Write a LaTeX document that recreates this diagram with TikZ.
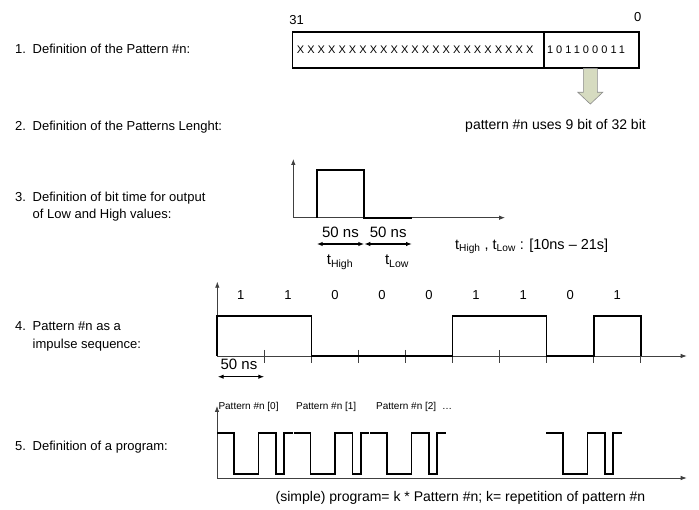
\documentclass[tikz,border=0pt]{standalone}
\usepackage{fontspec}
\setmainfont{Liberation Sans}
\usetikzlibrary{arrows.meta}

\definecolor{arrowfill}{RGB}{214,219,192}
\newcommand{\pxfont}[1]{\fontsize{#1}{#1}\selectfont}

\tikzset{
	lbl/.style={anchor=base west, inner sep=0pt, font=\pxfont{13}},
	txt/.style={anchor=base, inner sep=0pt},
	sigaxis/.style={draw=black!75, line width=0.8pt, -{Latex[length=6pt,width=4.5pt]}},
	sigwave/.style={line width=1.7pt, line join=miter},
	spanarrow/.style={line width=1.2pt, {Latex[length=6pt,width=4.5pt]}-{Latex[length=6pt,width=4.5pt]}},
	bitmark/.style={draw=black!75, line width=0.8pt},
	regbox/.style={draw, line width=1.1pt, minimum height=36pt, inner ysep=0pt, align=left, font=\pxfont{11}\addfontfeature{LetterSpace=28}},
	blockarrow/.style={fill=arrowfill, draw=black!45, line width=0.6pt},
}

\begin{document}
\begin{tikzpicture}[x=1pt, y=-1pt]
	\useasboundingbox[fill=white] (0,0) rectangle (699,510);
	\node[lbl] (def1) at (15,54) {\makebox[17.5pt][l]{1.}Definition of the Pattern \#n:};
	\node[lbl] (def2) at (15,130.5) {\makebox[17.5pt][l]{2.}Definition of the Patterns Lenght:};
	\node[lbl] (def3) at (15,201.5) {\makebox[17.5pt][l]{3.}Definition of bit time for output};
	\node[lbl] (def3b) at (32.5,219) {of Low and High values:};
	\node[lbl] (def4) at (15,331) {\makebox[17.5pt][l]{4.}Pattern \#n as a};
	\node[lbl] (def4b) at (32.5,349) {impulse sequence:};
	\node[lbl] (def5) at (15,451) {\makebox[17.5pt][l]{5.}Definition of a program:};

	\node[txt, font=\pxfont{13}] (msb) at (296.7,24.5) {31};
	\node[txt, font=\pxfont{13}] (lsb) at (637.7,21.5) {0};
	\node[regbox, text width=243pt, inner xsep=4pt] (unused) at (418.35,50) {XXXXXXXXXXXXXXXXXXXXXXX};
	\node[regbox, text width=89pt, inner xsep=3pt] (used) at (591.5,50) {101100011};
	\node[txt, font=\pxfont{14}] (uses) at (555.5,129.5) {pattern \#n uses 9 bit of 32 bit};
	\filldraw[blockarrow] ([xshift=-8.2pt]used.south) -- ++(0,23.7) -- ++(-5.5,0) -- ++(12.5,11.8)
		-- ++(12.5,-11.8) -- ++(-5.5,0) -- ++(0,-23.7) -- cycle;

	\coordinate (o3) at (293.3,217.7);
	\draw[sigaxis] (o3) -- (293.3,159);
	\draw[sigaxis] (o3) -- (505,217.7);
	\draw[sigwave] (316.7,217.7) -- (316.7,170) -- (364.3,170) -- (364.3,217.7) -- (412,217.7);
	\coordinate (h0) at (316.7,244);
	\coordinate (h1) at (364.3,244);
	\coordinate (h2) at (412,244);
	\draw[spanarrow] (h0) -- (h1);
	\draw[spanarrow] (h1) -- (h2);
	\node[txt, font=\pxfont{15}] (thigh) at (340.5,237.3) {50 ns};
	\node[txt, font=\pxfont{15}] (tlow) at (388.2,237.3) {50 ns};
	\node[txt, font=\pxfont{15}] (thighlbl) at (340,265) {t\textsubscript{High}};
	\node[txt, font=\pxfont{15}] (tlowlbl) at (397,265) {t\textsubscript{Low}};
	\node[txt, anchor=base west, font=\pxfont{14.5}] (trange) at (455,249.3) {t\textsubscript{High} , t\textsubscript{Low} : [10ns – 21s]};

	\coordinate (o4) at (217.3,356);
	\draw[sigaxis] (o4) -- (217.3,281.7);
	\draw[sigaxis] (o4) -- (686.7,356);
	\foreach \i in {1,...,9}
		\draw[bitmark] ({217.3+47.05*\i},350) -- ++(0,13);
	\draw[sigwave] (217.3,356) -- (217.3,315.7) -- (311.4,315.7) -- (311.4,356) -- (452.5,356) -- (452.5,315.7)
		-- (546.6,315.7) -- (546.6,356) -- (593.7,356) -- (593.7,315.7) -- (640.7,315.7) -- (640.7,356);
	\foreach \b [count=\i from 0] in {1,1,0,0,0,1,1,0,1}
		\node[txt, font=\pxfont{13}] (bit\i) at ({217.3+47.05*(\i+0.5)},299.3) {\b};
	\coordinate (w0) at (217.7,376.7);
	\coordinate (w1) at (264.3,376.7);
	\draw[spanarrow] (w0) -- (w1);
	\node[txt, font=\pxfont{15}] (bitw) at (239,369.3) {50 ns};

	\coordinate (o5) at (217,478);
	\draw[sigaxis] (o5) -- (217,406);
	\draw[sigaxis] (o5) -- (686.7,478);
	\foreach \s in {217,293.5,370,546}
		\draw[sigwave] (\s,433.3) -- ++(17,0) -- ++(0,40.7) -- ++(24.5,0) -- ++(0,-40.7) -- ++(17.5,0)
			-- ++(0,40.7) -- ++(8.3,0) -- ++(0,-40.7) -- ++(8.2,0);
	\node[txt, anchor=base west, font=\pxfont{10}] (rep0) at (218.3,409.5) {Pattern \#n [0]};
	\node[txt, anchor=base west, font=\pxfont{10}] (rep1) at (296,409.5) {Pattern \#n [1]};
	\node[txt, anchor=base west, font=\pxfont{10}] (rep2) at (376,409.5) {Pattern \#n [2]\hspace{6pt}…};
	\node[txt, font=\pxfont{14}] (prog) at (460.5,501.5) {(simple) program= k * Pattern \#n; k= repetition of pattern \#n};
\end{tikzpicture}
\end{document}
